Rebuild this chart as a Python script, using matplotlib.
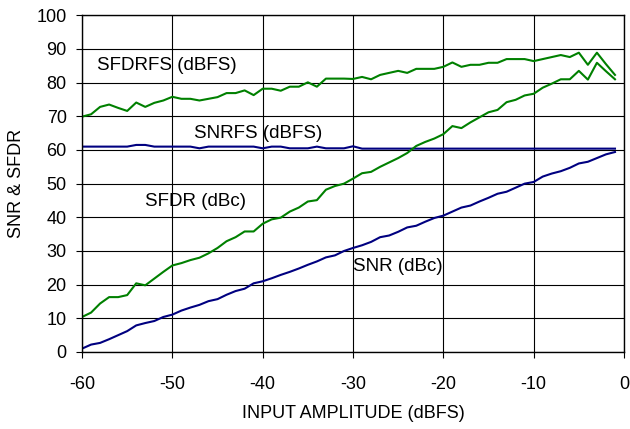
import numpy as np
import matplotlib.pyplot as plt

plt.rcParams["font.family"] = ["Liberation Sans", "DejaVu Sans"]
plt.rcParams["axes.unicode_minus"] = False

# input amplitude, 1 dB steps
amplitude = np.arange(-60, 0)

sfdrfs = [69.9, 70.6, 72.8, 73.5, 72.5, 71.6, 74.1, 72.8, 74.0, 74.7,
          75.8, 75.2, 75.2, 74.7, 75.2, 75.7, 76.9, 76.9, 77.7, 76.3,
          78.2, 78.2, 77.6, 78.8, 78.8, 80.1, 78.8, 81.2, 81.2, 81.2,
          81.1, 81.7, 81.0, 82.3, 82.9, 83.5, 82.9, 84.1, 84.1, 84.1,
          84.7, 86.0, 84.7, 85.3, 85.3, 85.9, 85.9, 87.0, 87.0, 87.0,
          86.4, 87.0, 87.6, 88.2, 87.6, 88.9, 85.3, 88.9, 85.5, 82.3]

snrfs = ([61.0] * 6 + [61.5, 61.5] + [61.0] * 5 + [60.5] + [61.0] * 6
         + [60.5, 61.0, 61.0, 60.5, 60.5, 60.5, 61.0, 60.5, 60.5, 60.5, 61.1]
         + [60.4] * 29)

sfdr = [10.4, 11.7, 14.4, 16.3, 16.3, 16.9, 20.4, 19.8, 21.8, 23.8,
        25.7, 26.4, 27.3, 28.0, 29.3, 30.9, 32.9, 34.1, 35.8, 35.8,
        38.1, 39.4, 39.9, 41.7, 42.9, 44.7, 45.1, 48.2, 49.3, 50.0,
        51.5, 53.1, 53.5, 55.0, 56.3, 57.6, 59.1, 61.2, 62.4, 63.4,
        64.7, 67.1, 66.5, 68.2, 69.7, 71.2, 71.9, 74.2, 74.9, 76.2,
        76.7, 78.5, 79.7, 81.0, 81.0, 83.5, 80.9, 85.9, 83.4, 81.0]

snr = [1.0, 2.2, 2.7, 3.8, 5.0, 6.2, 7.9, 8.6, 9.2, 10.4,
       11.1, 12.3, 13.2, 14.0, 15.1, 15.7, 17.0, 18.1, 18.8, 20.4,
       21.0, 21.9, 22.9, 23.8, 24.8, 25.9, 26.9, 28.1, 28.7, 30.0,
       30.9, 31.7, 32.7, 34.1, 34.6, 35.7, 37.0, 37.5, 38.7, 39.8,
       40.5, 41.7, 42.9, 43.5, 44.7, 45.8, 47.0, 47.6, 48.8, 50.0,
       50.5, 52.1, 53.0, 53.7, 54.7, 56.0, 56.5, 57.6, 58.7, 59.4]

green = "#008000"
navy = "#000080"

fig = plt.figure(figsize=(6.3, 4.29), dpi=100)
ax = fig.add_axes([0.1302, 0.1795, 0.8603, 0.7848])

ax.plot(amplitude, sfdrfs, color=green, linewidth=1.5)
ax.plot(amplitude, snrfs, color=navy, linewidth=1.5)
ax.plot(amplitude, sfdr, color=green, linewidth=1.5)
ax.plot(amplitude, snr, color=navy, linewidth=1.5)

fs = 13.5
ax.text(-58.3, 85.2, "SFDRFS (dBFS)", fontsize=fs, va="center", ha="left")
ax.text(-47.6, 65.0, "SNRFS (dBFS)", fontsize=fs, va="center", ha="left")
ax.text(-53.0, 44.6, "SFDR (dBc)", fontsize=fs, va="center", ha="left")
ax.text(-30.0, 25.3, "SNR (dBc)", fontsize=fs, va="center", ha="left")

ax.set_xlim(-60, 0)
ax.set_ylim(0, 100)
ax.set_xticks(np.arange(-60, 1, 10))
ax.set_yticks(np.arange(0, 101, 10))
ax.grid(True, color="black", linewidth=0.8)
ax.set_axisbelow(True)

ax.tick_params(axis="both", direction="out", length=4, width=0.8,
               labelsize=13, color="black")
ax.tick_params(axis="x", pad=13)
ax.tick_params(axis="y", pad=7)
for s in ax.spines.values():
    s.set_color("black")
    s.set_linewidth(1.0)

ax.set_xlabel("INPUT AMPLITUDE (dBFS)", fontsize=13, labelpad=9)
ax.set_ylabel("SNR & SFDR", fontsize=13, labelpad=8)

fig.savefig("out.png", dpi=100)
